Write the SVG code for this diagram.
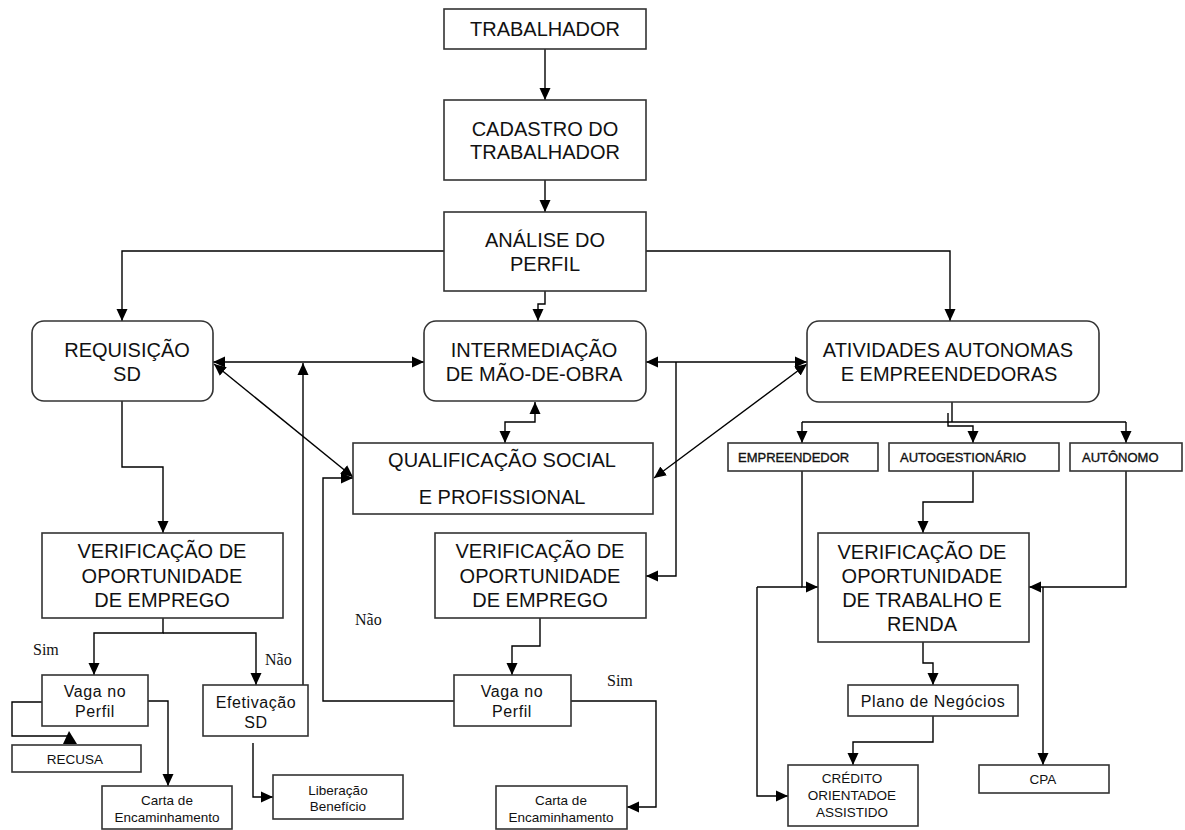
<svg xmlns="http://www.w3.org/2000/svg" width="1185" height="830" viewBox="0 0 1185 830">
<style>
.box{fill:#fff;stroke:#333;stroke-width:1.6}
.ln{fill:none;stroke:#000;stroke-width:1.4}
.big{font-family:"Liberation Sans",Arial,sans-serif;font-size:20px;fill:#111;text-anchor:middle}
.med{font-family:"Liberation Sans",Arial,sans-serif;font-size:16px;fill:#111;text-anchor:middle;letter-spacing:0.6px}
.sm{font-family:"Liberation Sans",Arial,sans-serif;font-size:13.5px;fill:#111;text-anchor:middle}
.cap{font-family:"Liberation Sans",Arial,sans-serif;font-size:13px;fill:#111;stroke:#111;stroke-width:0.35}
.ser{font-family:"Liberation Serif","Times New Roman",serif;font-size:16px;fill:#111}
</style>
<defs>
<marker id="a" viewBox="0 0 12 12" refX="12" refY="6" markerWidth="12" markerHeight="12" markerUnits="userSpaceOnUse" orient="auto-start-reverse"><path d="M0,0.5 L12,6 L0,11.5 z" fill="#000"/></marker>
</defs>
<rect width="1185" height="830" fill="#fff"/>
<g id="connectors">
<path class="ln" d="M545,49 V100" marker-end="url(#a)"/>
<path class="ln" d="M545,180 V212" marker-end="url(#a)"/>
<path class="ln" d="M444,251 H122 V321" marker-end="url(#a)"/>
<path class="ln" d="M646,251 H950 V321" marker-end="url(#a)"/>
<path class="ln" d="M545,291 V304 H538 V321" marker-end="url(#a)"/>
<path class="ln" d="M213,362 H424" marker-start="url(#a)" marker-end="url(#a)"/>
<path class="ln" d="M303,685 V363" marker-end="url(#a)"/>
<path class="ln" d="M214,364 L353,477" marker-start="url(#a)" marker-end="url(#a)"/>
<path class="ln" d="M646,362 H807" marker-start="url(#a)" marker-end="url(#a)"/>
<path class="ln" d="M807,364 L654,478" marker-start="url(#a)" marker-end="url(#a)"/>
<path class="ln" d="M535,402 V422 H505 V443" marker-start="url(#a)" marker-end="url(#a)"/>
<path class="ln" d="M676,362 V576 H646" marker-end="url(#a)"/>
<path class="ln" d="M122,401 V467 H163 V533" marker-end="url(#a)"/>
<path class="ln" d="M454,701 H323 V478 H353" marker-end="url(#a)"/>
<path class="ln" d="M163,618 V633 H94 V675" marker-end="url(#a)"/>
<path class="ln" d="M163,633 H256 V685" marker-end="url(#a)"/>
<path class="ln" d="M42,702 H12 V736 H70"/>
<polygon points="69,731 77,744 63,744" fill="#000"/>
<path class="ln" d="M148,701 H168 V786" marker-end="url(#a)"/>
<path class="ln" d="M253,743 V797 H273" marker-end="url(#a)"/>
<path class="ln" d="M540,618 V646 H512 V675" marker-end="url(#a)"/>
<path class="ln" d="M571,701 H656 V807 H627" marker-end="url(#a)"/>
<path class="ln" d="M952,402 V422"/>
<path class="ln" d="M802,422 H1126"/>
<path class="ln" d="M802,422 V443" marker-end="url(#a)"/>
<path class="ln" d="M1126,422 V443" marker-end="url(#a)"/>
<path class="ln" d="M948,413 V426 H973 V443" marker-end="url(#a)"/>
<path class="ln" d="M802,471 V587 H818" marker-end="url(#a)"/>
<path class="ln" d="M757,587 H802"/>
<path class="ln" d="M757,587 V796 H788" marker-end="url(#a)"/>
<path class="ln" d="M973,471 V502 H923 V533" marker-end="url(#a)"/>
<path class="ln" d="M1126,471 V587 H1029" marker-end="url(#a)"/>
<path class="ln" d="M1043,587 V765" marker-end="url(#a)"/>
<path class="ln" d="M923,642 V663 H933 V685" marker-end="url(#a)"/>
<path class="ln" d="M933,716 V742 H853 V765" marker-end="url(#a)"/>
</g>
<g id="trabalhador"><rect class="box" x="444" y="9" width="202" height="40"/><text class="big" x="545" y="36">TRABALHADOR</text></g>
<g id="cadastro"><rect class="box" x="444" y="100" width="202" height="80"/><text class="big" x="545" y="136">CADASTRO DO</text><text class="big" x="545" y="159">TRABALHADOR</text></g>
<g id="analise"><rect class="box" x="444" y="212" width="202" height="79"/><text class="big" x="545" y="247">ANÁLISE DO</text><text class="big" x="545" y="271">PERFIL</text></g>
<g id="requisicao"><rect class="box" x="32" y="321" width="181" height="80" rx="12"/><text class="big" x="127" y="357">REQUISIÇÃO</text><text class="big" x="127" y="381">SD</text></g>
<g id="intermediacao"><rect class="box" x="424" y="321" width="222" height="80" rx="12"/><text class="big" x="534" y="357">INTERMEDIAÇÃO</text><text class="big" x="534" y="381">DE MÃO-DE-OBRA</text></g>
<g id="atividades"><rect class="box" x="807" y="321" width="292" height="81" rx="12"/><text class="big" x="948" y="357">ATIVIDADES AUTONOMAS</text><text class="big" x="949" y="381">E EMPREENDEDORAS</text></g>
<g id="qualificacao"><rect class="box" x="353" y="443" width="300" height="71"/><text class="big" x="502" y="467">QUALIFICAÇÃO SOCIAL</text><text class="big" x="502" y="504">E PROFISSIONAL</text></g>
<g id="verif-emprego-1"><rect class="box" x="42" y="533" width="241" height="85"/><text class="big" x="162" y="558">VERIFICAÇÃO DE</text><text class="big" x="162" y="583">OPORTUNIDADE</text><text class="big" x="162" y="607">DE EMPREGO</text></g>
<g id="verif-emprego-2"><rect class="box" x="435" y="533" width="211" height="85"/><text class="big" x="540" y="558">VERIFICAÇÃO DE</text><text class="big" x="540" y="583">OPORTUNIDADE</text><text class="big" x="540" y="607">DE EMPREGO</text></g>
<g id="verif-trabalho"><rect class="box" x="818" y="533" width="211" height="109"/><text class="big" x="922" y="559">VERIFICAÇÃO DE</text><text class="big" x="922" y="583">OPORTUNIDADE</text><text class="big" x="922" y="607">DE TRABALHO E</text><text class="big" x="922" y="631">RENDA</text></g>
<g id="empreendedor"><rect class="box" x="728" y="443" width="150" height="28"/><text class="cap" x="738" y="462">EMPREENDEDOR</text></g>
<g id="autogestionario"><rect class="box" x="889" y="443" width="170" height="28"/><text class="cap" x="900" y="462">AUTOGESTIONÁRIO</text></g>
<g id="autonomo"><rect class="box" x="1070" y="443" width="112" height="28"/><text class="cap" x="1082" y="462">AUTÔNOMO</text></g>
<g id="vaga-1"><rect class="box" x="42" y="675" width="106" height="51"/><text class="med" x="95" y="697">Vaga no</text><text class="med" x="95" y="717">Perfil</text></g>
<g id="efetivacao"><rect class="box" x="203" y="685" width="105" height="51"/><text class="med" x="256" y="708">Efetivação</text><text class="med" x="256" y="728">SD</text></g>
<g id="recusa"><rect class="box" x="12" y="745" width="129" height="27"/><text class="sm" x="75" y="764">RECUSA</text></g>
<g id="carta-1"><rect class="box" x="102" y="786" width="130" height="43"/><text class="sm" x="167" y="805">Carta de</text><text class="sm" x="167" y="822">Encaminhamento</text></g>
<g id="liberacao"><rect class="box" x="273" y="775" width="130" height="44"/><text class="sm" x="338" y="795">Liberação</text><text class="sm" x="338" y="811">Benefício</text></g>
<g id="vaga-2"><rect class="box" x="454" y="675" width="117" height="51"/><text class="med" x="512" y="697">Vaga no</text><text class="med" x="512" y="717">Perfil</text></g>
<g id="carta-2"><rect class="box" x="496" y="786" width="131" height="43"/><text class="sm" x="561" y="805">Carta de</text><text class="sm" x="561" y="822">Encaminhamento</text></g>
<g id="plano"><rect class="box" x="848" y="685" width="170" height="31"/><text class="med" x="933" y="707">Plano de Negócios</text></g>
<g id="credito"><rect class="box" x="788" y="765" width="130" height="61"/><text class="sm" x="852" y="783">CRÉDITO</text><text class="sm" x="852" y="800">ORIENTADOE</text><text class="sm" x="852" y="817">ASSISTIDO</text></g>
<g id="cpa"><rect class="box" x="979" y="765" width="130" height="28"/><text class="sm" x="1043" y="784">CPA</text></g>
<g id="labels">
<text class="ser" x="33" y="655">Sim</text>
<text class="ser" x="265" y="665">Não</text>
<text class="ser" x="355" y="625">Não</text>
<text class="ser" x="607" y="686">Sim</text>
</g>
</svg>
